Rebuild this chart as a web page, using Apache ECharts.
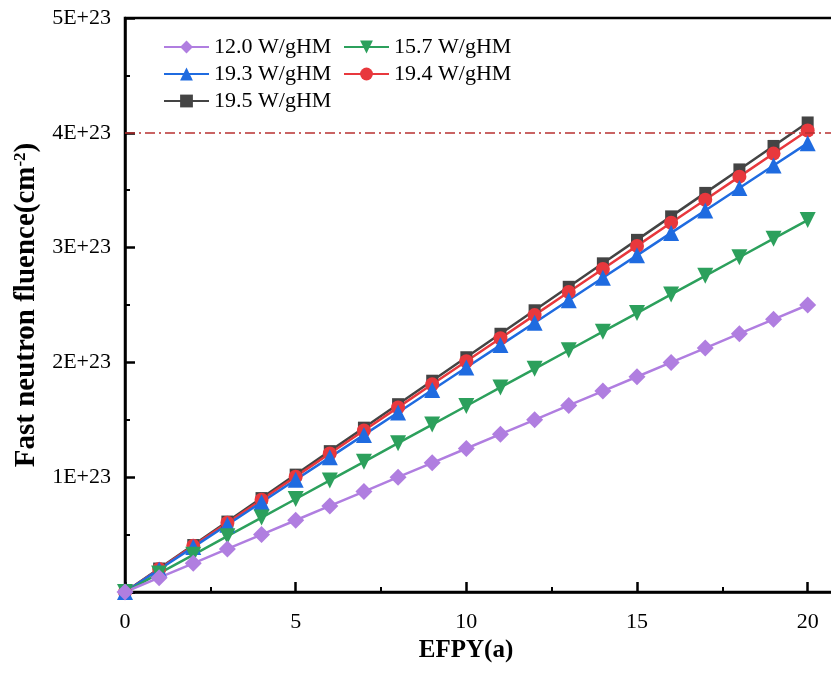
<!DOCTYPE html>
<html>
<head>
<meta charset="utf-8">
<script src="https://cdn.jsdelivr.net/npm/echarts@6/dist/echarts.min.js"></script>
<style>html,body{margin:0;padding:0;background:#fff;}#c{width:831px;height:675px;}</style>
</head>
<body>
<div id="c"></div>
<script>
// EFPY (years)
var years = [0,1,2,3,4,5,6,7,8,9,10,11,12,13,14,15,16,17,18,19,20];
// Fast neutron fluence, in units of 1E+23 cm^-2
var s120 = [0,0.125,0.25,0.375,0.5,0.625,0.75,0.875,1.0,1.125,1.25,1.375,1.5,1.625,1.75,1.875,2.0,2.125,2.25,2.375,2.5];
var s157 = [0,0.162,0.324,0.486,0.648,0.81,0.972,1.134,1.296,1.458,1.62,1.782,1.944,2.106,2.268,2.43,2.592,2.754,2.916,3.078,3.24];
var s193 = [0,0.1955,0.391,0.5865,0.782,0.9775,1.173,1.3685,1.564,1.7595,1.955,2.1505,2.346,2.5415,2.737,2.9325,3.128,3.3235,3.519,3.7145,3.91];
var s194 = [0,0.201,0.402,0.603,0.804,1.005,1.206,1.407,1.608,1.809,2.01,2.211,2.412,2.613,2.814,3.015,3.216,3.417,3.618,3.819,4.02];
var s195 = [0,0.2045,0.409,0.6135,0.818,1.0225,1.227,1.4315,1.636,1.8405,2.045,2.2495,2.454,2.6585,2.863,3.0675,3.272,3.4765,3.681,3.8855,4.09];
var seriesNames = ['12.0 W/gHM','15.7 W/gHM','19.3 W/gHM','19.4 W/gHM','19.5 W/gHM'];
var limitValue = 4;
var yTicks = ['', '1E+23', '2E+23', '3E+23', '4E+23', '5E+23'];

function pairs(arr){ return years.map(function(x,i){ return [x, arr[i]]; }); }

var FONT = 'Liberation Serif, Times New Roman, serif';
var chart = echarts.init(document.getElementById('c'), null, {renderer:'canvas'});

function mk(name, data, color, symbol, size, rotate){
  return {
    name: name, type: 'line', data: pairs(data),
    symbol: symbol, symbolSize: size, symbolRotate: rotate || 0,
    showAllSymbol: true,
    lineStyle: {color: color, width: 2.5},
    itemStyle: {color: color},
    emphasis: {disabled: true},
    animation: false
  };
}

var sBlack = mk(seriesNames[4], s195, '#444444', 'rect', 12);
sBlack.markLine = {
  silent: true, symbol: 'none', animation: false,
  label: {show: false},
  lineStyle: {color: '#b83030', width: 1.5, type: [10,4,2,4]},
  data: [{yAxis: limitValue}]
};

var legendBase = {
  orient: 'vertical', top: 36,
  itemWidth: 45, itemHeight: 16, itemGap: 5,
  textStyle: {fontFamily: FONT, fontSize: 22, lineHeight: 22, color: '#000'},
  padding: 0
};

var option = {
  backgroundColor: '#ffffff',
  animation: false,
  grid: {
    left: 125, top: 18, width: 768, height: 574,
    outerBoundsMode: 'none', containLabel: false,
    show: true, borderColor: '#000', borderWidth: 2.5, backgroundColor: 'transparent'
  },
  legend: [
    Object.assign({}, legendBase, {left: 163, data: [seriesNames[0], seriesNames[2], seriesNames[4]]}),
    Object.assign({}, legendBase, {left: 343, data: [seriesNames[1], seriesNames[3]]})
  ],
  xAxis: {
    type: 'value', min: 0, max: 22.5, interval: 5,
    name: 'EFPY(a)', nameLocation: 'middle', nameGap: 44,
    nameTextStyle: {fontFamily: FONT, fontSize: 25, fontWeight: 'bold', color: '#000', padding: [0, 86, 0, 0]},
    axisLine: {show: true, lineStyle: {color: '#000', width: 2.5}},
    axisTick: {show: true, inside: true, length: 10, lineStyle: {color: '#000', width: 2.5}},
    minorTick: {show: true, splitNumber: 2, length: 5, lineStyle: {color: '#000', width: 2}},
    axisLabel: {fontFamily: FONT, fontSize: 22, color: '#000', margin: 19,
      formatter: function(v){ return (v <= 20) ? String(v) : ''; }},
    splitLine: {show: false}
  },
  yAxis: {
    type: 'value', min: 0, max: 5, interval: 1,
    name: '{a|Fast neutron fluence(cm}{s|-2}{a|)}',
    nameLocation: 'middle', nameGap: 82,
    nameTextStyle: {
      rich: {
        a: {fontFamily: FONT, fontSize: 29, fontWeight: 'bold', color: '#000'},
        s: {fontFamily: FONT, fontSize: 17, fontWeight: 'bold', color: '#000', verticalAlign: 'top', padding: [0,0,12,0]}
      }
    },
    axisLine: {show: true, lineStyle: {color: '#000', width: 2.5}},
    axisTick: {show: true, inside: true, length: 10, lineStyle: {color: '#000', width: 2.5}},
    minorTick: {show: true, splitNumber: 2, length: 5, lineStyle: {color: '#000', width: 2}},
    axisLabel: {fontFamily: FONT, fontSize: 22, color: '#000', margin: 14,
      formatter: function(v){ return yTicks[Math.round(v)] || ''; }},
    splitLine: {show: false}
  },
  series: [
    sBlack,
    mk(seriesNames[3], s194, '#e8383d', 'circle', 14),
    mk(seriesNames[2], s193, '#1f6be0', 'triangle', 16),
    mk(seriesNames[1], s157, '#2ca05c', 'triangle', 16, 180),
    mk(seriesNames[0], s120, '#b07ee0', 'diamond', 17)
  ]
};
chart.setOption(option);
</script>
</body>
</html>
